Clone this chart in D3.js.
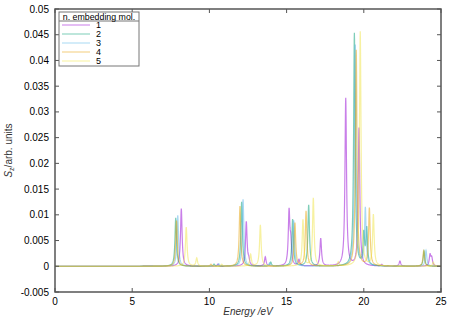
<!DOCTYPE html>
<html>
<head>
<meta charset="utf-8">
<script src="https://cdn.jsdelivr.net/npm/d3@7"></script>
<style>
    body { margin: 0; background: #fff; }
    svg { font-family: "Liberation Sans", Arial, sans-serif; }
</style>
</head>
<body>
<div id="canvas"></div>
<script>
// series names and colours (gnuplot defaults)
var seriesNames = ["1", "2", "3", "4", "5"];
var seriesColors = ["#9400d3", "#009e73", "#56b4e9", "#e69f00", "#f0e442"];

// peak energies (eV) and heights, one list per series
var peaks1 = [[8.18, 0.0112], [10.55, 0.0004], [12.39, 0.0086], [12.55, 0.0010], [13.62, 0.0018],
    [15.16, 0.0104], [15.27, 0.0040], [15.8, 0.0012], [17.21, 0.0054], [18.83, 0.0326],
    [19.69, 0.0268], [21.16, 0.0003], [22.34, 0.0010], [24.29, 0.0021], [24.40, 0.0015]];
var peaks2 = [[7.82, 0.0094], [10.3, 0.0004], [12.09, 0.0125], [13.97, 0.0008], [15.39, 0.0091],
    [16.43, 0.0119], [19.39, 0.0453], [20.0, 0.0060], [20.19, 0.0070], [23.9, 0.0030]];
var peaks3 = [[7.95, 0.0099], [10.6, 0.0005], [12.18, 0.0130], [13.9, 0.0006], [15.46, 0.0089],
    [19.45, 0.0430], [20.10, 0.0112], [24.03, 0.0031]];
var peaks4 = [[7.87, 0.0089], [10.1, 0.0004], [11.98, 0.0117], [15.54, 0.0084], [16.26, 0.0107],
    [19.51, 0.0420], [20.36, 0.0112], [23.88, 0.0030]];
var peaks5 = [[8.50, 0.0076], [9.18, 0.0016], [10.8, 0.0004], [12.67, 0.0023], [13.30, 0.0080],
    [16.06, 0.0090], [16.73, 0.0132], [18.35, 0.0008], [19.77, 0.0456], [20.62, 0.0099], [24.5, 0.0008]];
var allPeaks = [peaks1, peaks2, peaks3, peaks4, peaks5];

// axis ticks
var xTicks = [0, 5, 10, 15, 20, 25];
var yTicks = [-0.005, 0, 0.005, 0.01, 0.015, 0.02, 0.025, 0.03, 0.035, 0.04, 0.045, 0.05];
var yTickLabels = ["-0.005", "0", "0.005", "0.01", "0.015", "0.02", "0.025", "0.03", "0.035", "0.04", "0.045", "0.05"];

var width = 457, height = 320;
var margin = {left: 55, right: 16, top: 9, bottom: 28};
var gamma = 0.06; // lorentzian half width used for broadening

var svg = d3.select("#canvas").append("svg")
    .attr("width", width)
    .attr("height", height);

var x = d3.scaleLinear().domain([0, 25]).range([margin.left, width - margin.right]);
var y = d3.scaleLinear().domain([-0.005, 0.05]).range([height - margin.bottom, margin.top]);

svg.append("clipPath").attr("id", "plotclip")
    .append("rect")
    .attr("x", x(0)).attr("y", y(0.05))
    .attr("width", x(25) - x(0)).attr("height", y(-0.005) - y(0.05));

//broadened spectrum from a peak list
var spectrum = function (peaks) {
    let pts = [];
    for (let i = 0; i <= 2500; i++) {
        let e = i * 0.01;
        let s = 0;
        peaks.forEach(p => {
            let d = e - p[0];
            s += p[1] * gamma * gamma / (d * d + gamma * gamma);
        });
        pts.push([e, s]);
    }
    return pts;
};

var line = d3.line()
    .x(d => x(d[0]))
    .y(d => y(d[1]));

var plot = svg.append("g").attr("clip-path", "url(#plotclip)");
allPeaks.forEach((peaks, i) => {
    plot.append("path")
        .datum(spectrum(peaks))
        .attr("d", line)
        .attr("fill", "none")
        .attr("stroke", seriesColors[i])
        .attr("stroke-opacity", 0.5)
        .attr("stroke-width", 1.2);
});

// frame and ticks (mirrored, inward)
var axisColor = "#555";
var frame = svg.append("g");
frame.selectAll(".xt").data(xTicks).enter().append("line")
    .attr("x1", d => x(d)).attr("x2", d => x(d))
    .attr("y1", y(-0.005)).attr("y2", y(-0.005) - 4)
    .attr("stroke", axisColor);
frame.selectAll(".xt2").data(xTicks).enter().append("line")
    .attr("x1", d => x(d)).attr("x2", d => x(d))
    .attr("y1", y(0.05)).attr("y2", y(0.05) + 4)
    .attr("stroke", axisColor);
frame.selectAll(".yt").data(yTicks).enter().append("line")
    .attr("x1", x(0)).attr("x2", x(0) + 4)
    .attr("y1", d => y(d)).attr("y2", d => y(d))
    .attr("stroke", axisColor);
frame.selectAll(".yt2").data(yTicks).enter().append("line")
    .attr("x1", x(25)).attr("x2", x(25) - 4)
    .attr("y1", d => y(d)).attr("y2", d => y(d))
    .attr("stroke", axisColor);
frame.append("rect")
    .attr("x", x(0)).attr("y", y(0.05))
    .attr("width", x(25) - x(0)).attr("height", y(-0.005) - y(0.05))
    .attr("fill", "none")
    .attr("stroke", axisColor)
    .attr("stroke-width", 1.5);

// tick labels
svg.selectAll(".xl").data(xTicks).enter().append("text")
    .attr("x", d => x(d)).attr("y", y(-0.005) + 13)
    .attr("text-anchor", "middle")
    .attr("font-size", 10)
    .text(d => d);
svg.selectAll(".yl").data(yTicks).enter().append("text")
    .attr("x", x(0) - 6).attr("y", d => y(d) + 3.5)
    .attr("text-anchor", "end")
    .attr("font-size", 10)
    .text((d, i) => yTickLabels[i]);

// axis titles
svg.append("text")
    .attr("x", (x(0) + x(25)) / 2).attr("y", height - 5)
    .attr("text-anchor", "middle")
    .attr("font-size", 10)
    .attr("font-style", "italic")
    .attr("fill", "#333")
    .text("Energy /eV");

var ylab = svg.append("text")
    .attr("transform", "translate(12," + ((y(0.05) + y(-0.005)) / 2) + ") rotate(-90)")
    .attr("text-anchor", "middle")
    .attr("font-size", 10)
    .attr("fill", "#333");
ylab.append("tspan").attr("font-style", "italic").text("S");
ylab.append("tspan").attr("font-size", 7).attr("dy", 2).text("z");
ylab.append("tspan").attr("dy", -2).text("/arb. units");

// legend
var lg = svg.append("g").attr("transform", "translate(59,12)");
lg.append("rect")
    .attr("width", 80).attr("height", 54)
    .attr("fill", "#fff")
    .attr("stroke", "#777");
lg.append("line")
    .attr("x1", 0).attr("x2", 80)
    .attr("y1", 9).attr("y2", 9)
    .attr("stroke", "#777");
lg.append("text")
    .attr("x", 40).attr("y", 7.5)
    .attr("text-anchor", "middle")
    .attr("font-size", 8.8)
    .text("n. embedding mol.");
seriesNames.forEach((name, i) => {
    let ly = 13 + i * 9;
    lg.append("line")
        .attr("x1", 3).attr("x2", 31)
        .attr("y1", ly).attr("y2", ly)
        .attr("stroke", seriesColors[i])
        .attr("stroke-opacity", 0.35)
        .attr("stroke-width", 1.5);
    lg.append("text")
        .attr("x", 37).attr("y", ly + 3)
        .attr("font-size", 9)
        .text(name);
});
</script>
</body>
</html>
